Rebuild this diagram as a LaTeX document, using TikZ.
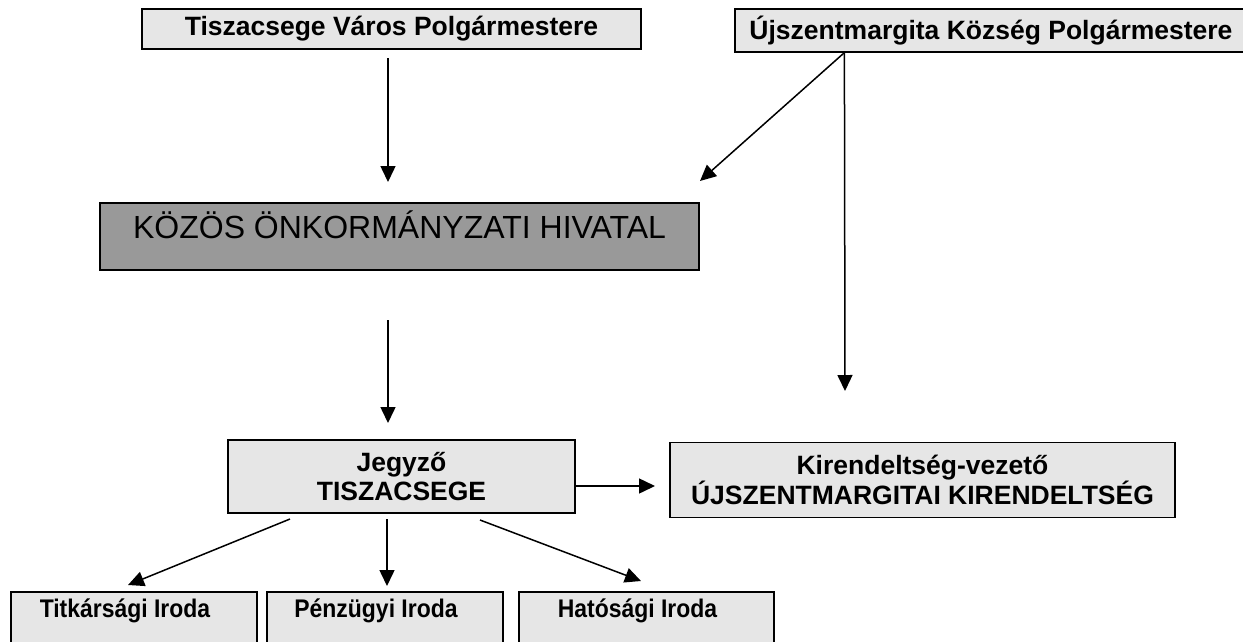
\documentclass[tikz,border=0pt]{standalone}
\usepackage{fontspec}
\setmainfont{Liberation Sans}
\newfontfamily\narrowfont[FakeStretch=0.9]{Liberation Sans}
\usetikzlibrary{arrows.meta,calc}
\definecolor{boxgray}{HTML}{E6E6E6}
\definecolor{hivgray}{HTML}{999999}
\tikzset{
  box/.style={draw=black, line width=1.2pt, fill=boxgray, inner sep=0pt, align=center,
    font=\bfseries\fontsize{26.5}{28.5}\selectfont},
  hivbox/.style={draw=black, line width=1.2pt, fill=hivgray, inner sep=0pt,
    font=\fontsize{32}{36}\selectfont, text height=23pt, text depth=20pt},
  officebox/.style={draw=black, line width=1.2pt, fill=boxgray, inner sep=0pt,
    font=\narrowfont\bfseries\fontsize{25.5}{28}\selectfont, text height=18pt, text depth=68pt,
    minimum height=100pt},
  arr/.style={line width=1.5pt, -{Triangle[length=16pt,width=15pt]}}
}
\begin{document}
\begin{tikzpicture}[x=1pt,y=-1pt]
\useasboundingbox (0,0) rectangle (1243,641);
\clip (0,0) rectangle (1243,641);
% boxes
\node[box, minimum width=499pt, minimum height=40pt] (tl) at (391.5,29) {Tiszacsege Város Polgármestere};
\node[box, minimum width=512pt, minimum height=43pt] (tr) at (991,30.5) {Újszentmargita Község Polgármestere};
\node[hivbox, minimum width=599pt, minimum height=67pt] (hiv) at (399.5,236.5) {KÖZÖS ÖNKORMÁNYZATI HIVATAL};
\node[box, minimum width=347pt, minimum height=73pt] (jegy) at (401.5,476.5) {Jegyző\\TISZACSEGE};
\node[box, minimum width=505pt, minimum height=75pt] (kir) at (922.5,480) {Kirendeltség-vezető\\ÚJSZENTMARGITAI KIRENDELTSÉG};
\node[officebox, minimum width=246pt] (titk) at (134,642) {Titkársági Iroda\hspace*{18pt}};
\node[officebox, minimum width=236pt] (penz) at (385,642) {Pénzügyi Iroda\hspace*{18pt}};
\node[officebox, minimum width=255pt] (hat) at (646.5,642) {Hatósági Iroda\hspace*{18pt}};
% connector ends
\coordinate (tlfoot) at (388,58);
\coordinate (hivtop) at (388,182);
\coordinate (trfoot) at ($(tr.south west)+(110,0)$);
\coordinate (hivright) at (700,181);
\coordinate (kirtop) at (845,391);
\coordinate (hivfoot) at (388,320);
\coordinate (jegytop) at (388,423);
\coordinate (jegyright) at ($(jegy.east)+(0,9.5)$);
\coordinate (kirleft) at (655,486);
\coordinate (js1) at (290,519);
\coordinate (js2) at (387,519);
\coordinate (js3) at (480,520);
\coordinate (titktop) at (128,585);
\coordinate (penztop) at (387,586);
\coordinate (hattop) at (641,581);
% connectors
\draw[arr] (tlfoot) -- (hivtop);
\draw[arr] (trfoot) -- (hivright);
\draw[arr] (trfoot) -- (kirtop);
\draw[arr] (hivfoot) -- (jegytop);
\draw[arr] (jegyright) -- (kirleft);
\draw[arr] (js1) -- (titktop);
\draw[arr] (js2) -- (penztop);
\draw[arr] (js3) -- (hattop);
\end{tikzpicture}
\end{document}
